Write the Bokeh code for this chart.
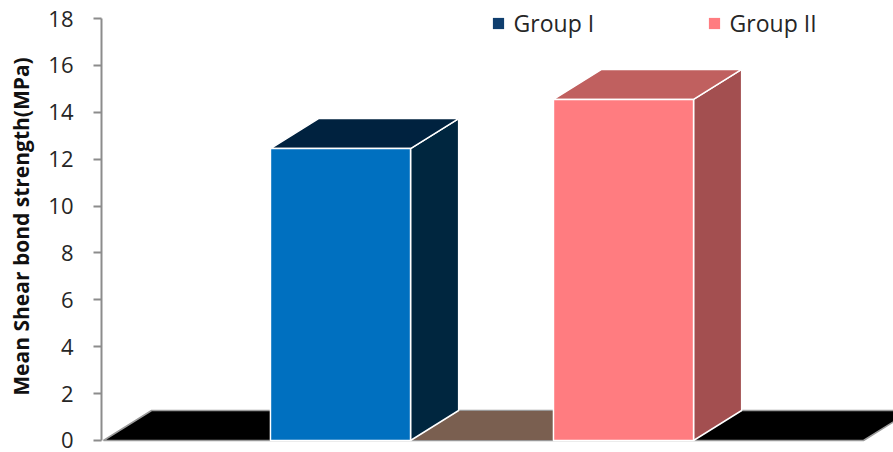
from bokeh.plotting import figure
from bokeh.models import Range1d, FixedTicker, Legend, LegendItem
from bokeh.embed import file_html
from bokeh.resources import INLINE

# ---- data ----
categories = ["Group I", "Group II"]
values = [12.45, 14.55]
y_ticks = [0, 2, 4, 6, 8, 10, 12, 14, 16, 18]
y_title = "Mean Shear bond strength(MPa)"

# ---- styling ----
front_colors = ["#0070C0", "#FF7C80"]
top_colors = ["#00223F", "#C0605F"]
side_colors = ["#00263F", "#A34F50"]
legend_colors = ["#0F3E6E", "#FF7C80"]
floor_color = "#000000"
gap_floor_color = "#7A5F50"

positions = [1, 2]
half_w = 0.2475
depth_x = 0.17
depth_y = 1.28
floor_left = 0.1625
floor_right = 2.848

p = figure(width=893, height=452, output_backend="svg", toolbar_location=None,
           x_axis_type=None,
           x_range=Range1d(0.1555, 2.954), y_range=Range1d(-0.5119, 18.768),
           min_border_left=101, min_border_right=0, min_border_top=0, min_border_bottom=0)
p.outline_line_color = None
p.ygrid.grid_line_color = None
p.background_fill_color = "white"
p.border_fill_color = "white"

# floor
p.patch([floor_left, floor_right, floor_right + depth_x, floor_left + depth_x],
        [0, 0, depth_y, depth_y], fill_color=floor_color, line_color="#9A9A9A", line_width=1.5)
# floor segment between bars
x1r = positions[0] + half_w
x2l = positions[1] - half_w
p.patch([x1r, x2l, x2l + depth_x, x1r + depth_x], [0, 0, depth_y, depth_y],
        fill_color=gap_floor_color, line_color="#9A9A9A", line_width=1.0)

# side and top faces
side_xs, side_ys, top_xs, top_ys = [], [], [], []
for c, v in zip(positions, values):
    r = c + half_w
    l = c - half_w
    side_xs.append([r, r + depth_x, r + depth_x, r])
    side_ys.append([0, depth_y, v + depth_y, v])
    top_xs.append([l, r, r + depth_x, l + depth_x])
    top_ys.append([v, v, v + depth_y, v + depth_y])
p.patches(side_xs, side_ys, fill_color=side_colors, line_color="white", line_width=1.5)
p.patches(top_xs, top_ys, fill_color=top_colors, line_color="white", line_width=1.5)
p.quad(left=[c - half_w for c in positions], right=[c + half_w for c in positions],
       bottom=[0, 0], top=values, fill_color=front_colors, line_color="white", line_width=1.5)

# y axis
ax = p.yaxis[0]
ax.ticker = FixedTicker(ticks=y_ticks)
ax.bounds = (0, 18)
ax.axis_line_color = "#8C8C8C"
ax.axis_line_width = 2
ax.major_tick_line_color = "#8C8C8C"
ax.major_tick_line_width = 2
ax.major_tick_in = 0
ax.major_tick_out = 8
ax.minor_tick_line_color = None
ax.major_label_text_font = "Open Sans"
ax.major_label_text_font_size = "22px"
ax.major_label_text_color = "#262626"
ax.major_label_standoff = 20
ax.axis_label = y_title
ax.axis_label_text_font = "Open Sans"
ax.axis_label_text_font_style = "bold"
ax.axis_label_text_font_size = "21px"
ax.axis_label_text_color = "#111111"
ax.axis_label_standoff = 10

# legend (two separately placed entries)
leg_x = [389.6, 605.6]
nan = float("nan")
for name, col, lx in zip(categories, legend_colors, leg_x):
    r = p.quad(left=[nan], right=[nan], top=[nan], bottom=[nan], fill_color=col, line_color=None)
    leg = Legend(items=[LegendItem(label=name, renderers=[r])], location=(lx, 413),
                 orientation="horizontal", padding=0, margin=0, border_line_color=None,
                 background_fill_alpha=0, label_text_font="Open Sans",
                 label_text_font_size="23px", label_text_color="#262626",
                 glyph_width=14, glyph_height=14, label_standoff=9)
    p.add_layout(leg)

open("out.html", "w").write(file_html(p, INLINE))
